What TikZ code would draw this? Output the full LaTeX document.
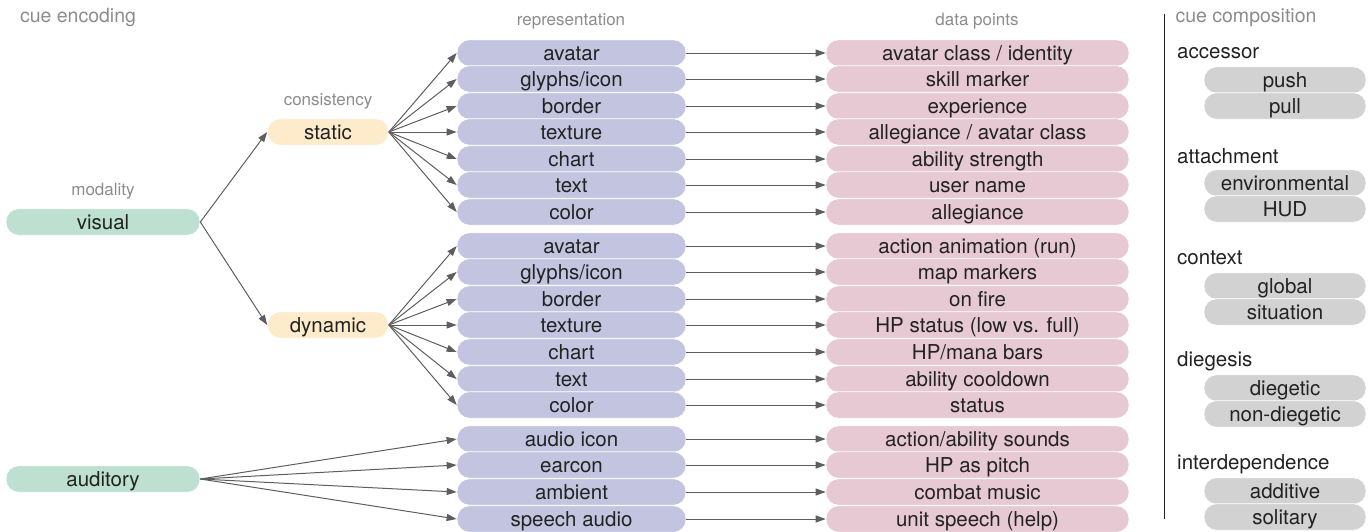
\documentclass[tikz,border=0pt]{standalone}
\usepackage{fontspec}
\setmainfont{TeX Gyre Heros}
\usetikzlibrary{arrows.meta}
\definecolor{cgreen}{HTML}{BEE0D0}
\definecolor{cyellow}{HTML}{FDEBCB}
\definecolor{cblue}{HTML}{C3C5E0}
\definecolor{cpink}{HTML}{E6C9D2}
\definecolor{cgray}{HTML}{D2D2D2}
\definecolor{carrow}{HTML}{5E5E5E}
\definecolor{ctext}{HTML}{222222}
\definecolor{clabel}{HTML}{8C8C8C}
\tikzset{
  pill/.style={rounded corners=12.5pt, minimum height=26.5pt, inner sep=0pt, draw=white, line width=0.7pt, text=ctext, font=\fontsize{20.5}{22}\selectfont, text height=18.5pt, text depth=3pt},
  green/.style={pill, fill=cgreen, minimum width=194pt},
  yellow/.style={pill, fill=cyellow, minimum width=121pt},
  rep/.style={pill, fill=cblue, minimum width=229pt},
  dat/.style={pill, fill=cpink, minimum width=303pt},
  comp/.style={pill, fill=cgray, minimum width=162pt},
  lbl/.style={text=clabel, font=\fontsize{17}{19}\selectfont, inner sep=0pt},
  big/.style={text=clabel, font=\fontsize{19.5}{21}\selectfont, inner sep=0pt},
  head/.style={text=ctext, font=\fontsize{20.5}{22}\selectfont, inner sep=0pt, anchor=west},
  arr/.style={draw=carrow, line width=1pt, -{Triangle[length=10pt,width=7pt]}},
}
\begin{document}
\begin{tikzpicture}[x=1pt,y=-1pt]
\useasboundingbox (0,0) rectangle (1372,531);
% labels
\node[big] (lce) at (78,18) {cue encoding};
\node[lbl] (lmod) at (103,191) {modality};
\node[lbl] (lcons) at (328,101) {consistency};
\node[lbl] (lrep) at (571,21) {representation};
\node[lbl] (ldat) at (977,21) {data points};
\node[big] (lcc) at (1246,18) {cue composition};
% modality
\node[green] (vis) at (103,222) {visual};
\node[green] (aud) at (103,479) {auditory};
% consistency
\node[yellow] (sta) at (328,132) {static};
\node[yellow] (dyn) at (328,325) {dynamic};
% representation and data
\foreach \i/\y/\r/\d in {
 1/53/avatar/avatar class \slash\ identity,
 2/79/glyphs\slash icon/skill marker,
 3/106/border/experience,
 4/132/texture/allegiance \slash\ avatar class,
 5/159/chart/ability strength,
 6/185/text/user name,
 7/212/color/allegiance,
 8/246/avatar/action animation (run),
 9/272/glyphs\slash icon/map markers,
 10/299/border/on fire,
 11/325/texture/HP status (low vs. full),
 12/352/chart/HP\slash mana bars,
 13/379/text/ability cooldown,
 14/405/color/status,
 15/439/audio icon/action\slash ability sounds,
 16/465/earcon/HP as pitch,
 17/492/ambient/combat music,
 18/519/speech audio/unit speech (help)}{
  \node[rep] (r\i) at (571.5,\y) {\r};
  \node[dat] (d\i) at (977.5,\y) {\d};
  \draw[arr] (r\i.east) -- (d\i.west);
}
\foreach \i in {1,...,7}{\draw[arr] (sta.east) -- (r\i.west);}
\foreach \i in {8,...,14}{\draw[arr] (dyn.east) -- (r\i.west);}
\foreach \i in {15,...,18}{\draw[arr] (aud.east) -- (r\i.west);}
\draw[arr] (vis.east) -- (sta.west);
\draw[arr] (vis.east) -- (dyn.west);
% cue composition
\coordinate (vt) at (1164,14);
\coordinate (vb) at (1164,519);
\draw[line width=1pt, ctext] (vt) -- (vb);
\node[head] (hacc) at (1177,53) {accessor};
\node[comp] (c1) at (1285,80) {push};
\node[comp] (c2) at (1285,106) {pull};
\node[head] (hatt) at (1177,156) {attachment};
\node[comp] (c3) at (1285,183) {environmental};
\node[comp] (c4) at (1285,209) {HUD};
\node[head] (hctx) at (1177,258) {context};
\node[comp] (c5) at (1285,286) {global};
\node[comp] (c6) at (1285,312) {situation};
\node[head] (hdie) at (1177,361) {diegesis};
\node[comp] (c7) at (1285,388) {diegetic};
\node[comp] (c8) at (1285,414) {non-diegetic};
\node[head] (hint) at (1177,464) {interdependence};
\node[comp] (c9) at (1285,491) {additive};
\node[comp] (c10) at (1285,517) {solitary};
\end{tikzpicture}
\end{document}
